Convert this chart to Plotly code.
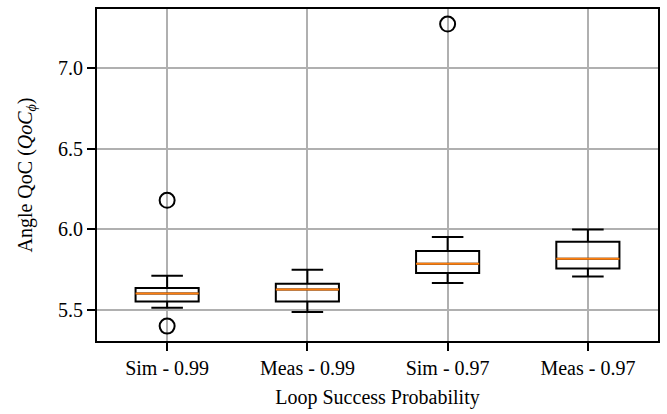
import plotly.graph_objects as go

categories = ["Sim - 0.99", "Meas - 0.99", "Sim - 0.97", "Meas - 0.97"]
positions = [1, 2, 3, 4]
lower_whisker = [5.515, 5.490, 5.668, 5.709]
q1 = [5.555, 5.555, 5.730, 5.758]
median = [5.604, 5.629, 5.787, 5.818]
q3 = [5.638, 5.664, 5.867, 5.924]
upper_whisker = [5.713, 5.750, 5.953, 6.000]
outlier_pos = [1, 1, 3]
outlier_val = [5.402, 6.180, 7.270]

BOX_W = 0.45
FONT = "Liberation Serif, Times New Roman, serif"

fig = go.Figure()
for i, p in enumerate(positions):
    fig.add_trace(go.Box(
        x=[p], q1=[q1[i]], median=[median[i]], q3=[q3[i]],
        lowerfence=[lower_whisker[i]], upperfence=[upper_whisker[i]],
        width=BOX_W, whiskerwidth=0.5,
        line=dict(color="black", width=2),
        fillcolor="rgba(0,0,0,0)", boxpoints=False,
        showlegend=False, hoverinfo="skip",
    ))
    fig.add_trace(go.Scatter(
        x=[p - BOX_W / 2, p + BOX_W / 2], y=[median[i], median[i]],
        mode="lines", line=dict(color="#ff7f0e", width=2),
        showlegend=False, hoverinfo="skip",
    ))

fig.add_trace(go.Scatter(
    x=outlier_pos, y=outlier_val, mode="markers",
    marker=dict(symbol="circle-open", size=15, color="black", line=dict(width=2, color="black")),
    showlegend=False, hoverinfo="skip",
))

axis_common = dict(
    showline=True, linecolor="black", linewidth=2, mirror=True,
    ticks="outside", ticklen=8, tickwidth=2, tickcolor="black",
    showgrid=True, gridcolor="#b0b0b0", gridwidth=1.5,
    zeroline=False, tickfont=dict(family=FONT, size=20, color="black"),
)

fig.update_layout(
    width=667, height=414,
    margin=dict(l=97, r=9, t=7, b=73),
    paper_bgcolor="white", plot_bgcolor="white",
    font=dict(family=FONT, size=20, color="black"),
    xaxis=dict(
        range=[0.5, 4.5], tickmode="array", tickvals=positions, ticktext=categories,
        title=dict(text="Loop Success Probability", font=dict(family=FONT, size=20), standoff=12),
        **axis_common,
    ),
    yaxis=dict(
        range=[5.31, 7.363], tickmode="array", tickvals=[5.5, 6.0, 6.5, 7.0],
        ticktext=["5.5", "6.0", "6.5", "7.0"],
        title=dict(text="Angle QoC (<i>QoC</i><sub><i>ϕ</i></sub>)", font=dict(family=FONT, size=20), standoff=20),
        **axis_common,
    ),
)

fig.write_html("out.html")
